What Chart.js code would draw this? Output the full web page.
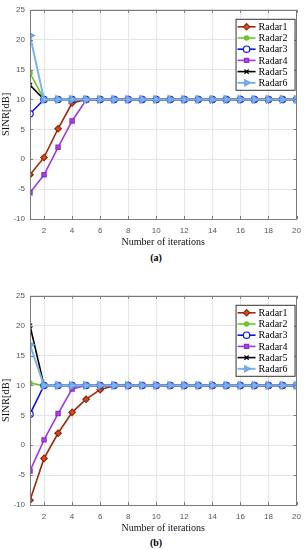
<!DOCTYPE html>
<html>
<head>
<meta charset="utf-8">
<script src="https://cdn.jsdelivr.net/npm/chart.js@4"></script>
<style>
  html, body { margin: 0; padding: 0; background: #fff; }
  body { width: 308px; height: 550px; position: relative; overflow: hidden; }
  .wrap { position: absolute; left: 0; width: 308px; height: 250px; }
  .cap { position: absolute; left: 0; width: 312px; text-align: center; font: bold 10px "Liberation Serif", serif; color: #000; }
</style>
</head>
<body>
<div class="wrap" style="top:0px"><canvas id="ca" width="308" height="250"></canvas></div>
<div class="cap" style="top:252px">(a)</div>
<div class="wrap" style="top:286px"><canvas id="cb" width="308" height="250"></canvas></div>
<div class="cap" style="top:537px">(b)</div>
<script>
// ---- data ----
const iterations = [1,2,3,4,5,6,7,8,9,10,11,12,13,14,15,16,17,18,19,20];
const seriesNames = ["Radar1","Radar2","Radar3","Radar4","Radar5","Radar6"];
const xTickValues = [2,4,6,8,10,12,14,16,18,20];
const yTickValues = [-10,-5,0,5,10,15,20,25];

// (a)
const a_radar1 = [-2.6, 0.3, 5.1, 9.4, 10.0, 10, 10, 10, 10, 10, 10, 10, 10, 10, 10, 10, 10, 10, 10, 10];
const a_radar2 = [14.4, 10, 10, 10, 10, 10, 10, 10, 10, 10, 10, 10, 10, 10, 10, 10, 10, 10, 10, 10];
const a_radar3 = [7.6, 10, 10, 10, 10, 10, 10, 10, 10, 10, 10, 10, 10, 10, 10, 10, 10, 10, 10, 10];
const a_radar4 = [-5.6, -2.6, 2.0, 6.4, 9.9, 10, 10, 10, 10, 10, 10, 10, 10, 10, 10, 10, 10, 10, 10, 10];
const a_radar5 = [12.4, 10, 10, 10, 10, 10, 10, 10, 10, 10, 10, 10, 10, 10, 10, 10, 10, 10, 10, 10];
const a_radar6 = [20.7, 10, 10, 10, 10, 10, 10, 10, 10, 10, 10, 10, 10, 10, 10, 10, 10, 10, 10, 10];

// (b)
const b_radar1 = [-9.2, -2.2, 2.0, 5.5, 7.7, 9.3, 10, 10, 10, 10, 10, 10, 10, 10, 10, 10, 10, 10, 10, 10];
const b_radar2 = [10.4, 10, 10, 10, 10, 10, 10, 10, 10, 10, 10, 10, 10, 10, 10, 10, 10, 10, 10, 10];
const b_radar3 = [5.2, 10, 10, 10, 10, 10, 10, 10, 10, 10, 10, 10, 10, 10, 10, 10, 10, 10, 10, 10];
const b_radar4 = [-4.3, 0.9, 5.3, 9.4, 10, 10, 10, 10, 10, 10, 10, 10, 10, 10, 10, 10, 10, 10, 10, 10];
const b_radar5 = [20.0, 10, 10, 10, 10, 10, 10, 10, 10, 10, 10, 10, 10, 10, 10, 10, 10, 10, 10, 10];
const b_radar6 = [16.8, 10, 10, 10, 10, 10, 10, 10, 10, 10, 10, 10, 10, 10, 10, 10, 10, 10, 10, 10];

// ---- styles ----
const styles = [
  { line: "#9a2a0a", fill: "#e04a1a", edge: "#8a2a0a", shape: "rectRot", r: 3.2, rot: 0, w: 1.6 },
  { line: "#6cc52c", fill: "#6cc52c", edge: "#6cc52c", shape: "circle", r: 2.2, rot: 0, w: 1.6 },
  { line: "#0a14e6", fill: "#ffffff", edge: "#0a14e6", shape: "circle", r: 3.2, rot: 0, w: 1.6 },
  { line: "#9a3ae8", fill: "#b040e0", edge: "#8a30d0", shape: "rect", r: 3.0, rot: 0, w: 1.6 },
  { line: "#000000", fill: "#000000", edge: "#000000", shape: "crossRot", r: 3.0, rot: 0, w: 1.6 },
  { line: "#7cb2ee", fill: "#7cb2ee", edge: "#6aa2e6", shape: "triangle", r: 4.4, rot: 90, w: 2.0 }
];

function makeDatasets(arrs) {
  return arrs.map((vals, i) => {
    const s = styles[i];
    return {
      label: seriesNames[i],
      data: iterations.map((x, k) => ({ x: x, y: vals[k] })),
      borderColor: s.line,
      borderWidth: s.w,
      backgroundColor: s.fill,
      pointStyle: s.shape,
      pointRadius: s.r,
      pointRotation: s.rot,
      pointBackgroundColor: s.fill,
      pointBorderColor: s.edge,
      pointBorderWidth: 1.2,
      pointHoverRadius: s.r,
      tension: 0,
      fill: false,
      order: 6 - i
    };
  });
}

const boxPlugin = {
  id: "boxPlugin",
  afterDraw(chart) {
    const { ctx, chartArea: a, scales } = chart;
    ctx.save();
    ctx.strokeStyle = "#7a7a7a";
    ctx.lineWidth = 1;
    ctx.strokeRect(Math.round(a.left) + 0.5, Math.round(a.top) + 0.5,
                   Math.round(a.right - a.left) - 1, Math.round(a.bottom - a.top));
    const tl = 3;
    ctx.beginPath();
    xTickValues.forEach(v => {
      const px = Math.round(scales.x.getPixelForValue(v)) + 0.5;
      ctx.moveTo(px, a.bottom); ctx.lineTo(px, a.bottom - tl);
      ctx.moveTo(px, a.top); ctx.lineTo(px, a.top + tl);
    });
    yTickValues.forEach(v => {
      const py = Math.round(scales.y.getPixelForValue(v)) + 0.5;
      ctx.moveTo(a.left, py); ctx.lineTo(a.left + tl, py);
      ctx.moveTo(a.right, py); ctx.lineTo(a.right - tl, py);
    });
    ctx.stroke();

    // legend
    const bx = a.right - 61, by = a.top + 9, bw = 59, bh = 71, rowH = 11.2;
    ctx.fillStyle = "#ffffff";
    ctx.fillRect(bx, by, bw, bh);
    ctx.strokeStyle = "#333333";
    ctx.strokeRect(bx + 0.5, by + 0.5, bw, bh);
    ctx.font = '10px "Liberation Serif", serif';
    ctx.textBaseline = "middle";
    ctx.textAlign = "left";
    chart.data.datasets.forEach((ds, i) => {
      const cy = by + 8 + i * rowH;
      ctx.strokeStyle = ds.borderColor;
      ctx.lineWidth = ds.borderWidth;
      ctx.beginPath();
      ctx.moveTo(bx + 2, cy); ctx.lineTo(bx + 20, cy);
      ctx.stroke();
      ctx.lineWidth = 1.2;
      ctx.fillStyle = ds.pointBackgroundColor;
      ctx.strokeStyle = ds.pointBorderColor;
      Chart.helpers.drawPoint(ctx, { pointStyle: ds.pointStyle, radius: Math.min(ds.pointRadius, 3.6), rotation: ds.pointRotation, borderWidth: 1.2 }, bx + 11, cy);
      ctx.fillStyle = "#000";
      ctx.fillText(ds.label, bx + 23, cy + 0.5);
    });
    ctx.restore();
  }
};

function makeChart(id, arrs) {
  return new Chart(document.getElementById(id), {
    type: "line",
    data: { datasets: makeDatasets(arrs) },
    options: {
      responsive: false,
      animation: false,
      events: [],
      layout: { padding: { top: 7, right: 9, left: 0, bottom: 0 } },
      plugins: { legend: { display: false }, tooltip: { enabled: false } },
      scales: {
        x: {
          type: "linear",
          min: 1, max: 20,
          afterBuildTicks: s => { s.ticks = xTickValues.map(v => ({ value: v })); },
          afterFit: s => { s.height = 31; },
          grid: { color: "#e4e4e4", drawTicks: false, lineWidth: 1 },
          border: { display: false },
          ticks: { font: { family: "Liberation Sans", size: 8 }, color: "#555", padding: 7, maxRotation: 0, autoSkip: false },
          title: { display: true, text: "Number of iterations", font: { family: "Liberation Serif", size: 10 }, color: "#111", padding: { top: 0, bottom: 2 } }
        },
        y: {
          type: "linear",
          min: -10, max: 25,
          afterBuildTicks: s => { s.ticks = yTickValues.map(v => ({ value: v })); },
          afterFit: s => { s.width = 30; },
          grid: { color: "#e4e4e4", drawTicks: false, lineWidth: 1 },
          border: { display: false },
          ticks: { font: { family: "Liberation Sans", size: 8 }, color: "#555", padding: 5 },
          title: { display: true, text: "SINR[dB]", font: { family: "Liberation Serif", size: 10.5 }, color: "#111", padding: { top: 0, bottom: 0 } }
        }
      }
    },
    plugins: [boxPlugin]
  });
}

makeChart("ca", [a_radar1, a_radar2, a_radar3, a_radar4, a_radar5, a_radar6]);
makeChart("cb", [b_radar1, b_radar2, b_radar3, b_radar4, b_radar5, b_radar6]);
</script>
</body>
</html>
